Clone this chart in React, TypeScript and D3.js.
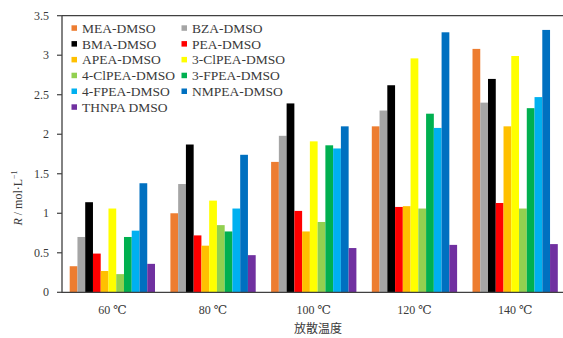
import * as d3 from 'd3'

const temps = ['60 ℃', '80 ℃', '100 ℃', '120 ℃', '140 ℃']
const seriesNames = [
  'MEA-DMSO',
  'BZA-DMSO',
  'BMA-DMSO',
  'PEA-DMSO',
  'APEA-DMSO',
  '3-ClPEA-DMSO',
  '4-ClPEA-DMSO',
  '3-FPEA-DMSO',
  '4-FPEA-DMSO',
  'NMPEA-DMSO',
  'THNPA DMSO',
]
const colors = [
  '#ED7D31',
  '#A5A5A5',
  '#000000',
  '#FF0000',
  '#FFC000',
  '#FFFF00',
  '#92D050',
  '#00B050',
  '#00B0F0',
  '#0070C0',
  '#7030A0',
]

// one array per series, values per temperature
const mea = [0.33, 1.0, 1.65, 2.1, 3.08]
const bza = [0.7, 1.37, 1.98, 2.3, 2.4]
const bma = [1.14, 1.87, 2.39, 2.62, 2.7]
const pea = [0.49, 0.72, 1.03, 1.08, 1.13]
const apea = [0.27, 0.59, 0.77, 1.09, 2.1]
const clpea3 = [1.06, 1.16, 1.91, 2.96, 2.99]
const clpea4 = [0.23, 0.85, 0.89, 1.06, 1.06]
const fpea3 = [0.7, 0.77, 1.86, 2.26, 2.33]
const fpea4 = [0.78, 1.06, 1.82, 2.08, 2.47]
const nmpea = [1.38, 1.74, 2.1, 3.29, 3.32]
const thnpa = [0.36, 0.47, 0.56, 0.6, 0.61]
const seriesValues = [mea, bza, bma, pea, apea, clpea3, clpea4, fpea3, fpea4, nmpea, thnpa]

const yTicks = [0, 0.5, 1, 1.5, 2, 2.5, 3, 3.5]

const left = 62
const right = 565.5
const top = 15.7
const bottom = 292.3

const x0 = d3.scaleBand().domain(temps).range([left, right]).paddingInner(0.153).paddingOuter(0.0765)
const x1 = d3.scaleBand().domain(seriesNames).range([0, x0.bandwidth()])
const y = d3.scaleLinear().domain([0, 3.5]).range([bottom, top])

const axisColor = '#404040'
const textColor = '#3a3a3a'
const serif = '"Liberation Serif", "DejaVu Serif", serif'

export default function App() {
  return (
    <svg
      width={563}
      height={338}
      style={{ position: 'absolute', left: 0, top: 0, background: '#fff' }}
    >
      {/* bars */}
      {temps.map((t, i) => (
        <g key={t} transform={`translate(${x0(t)},0)`}>
          {seriesNames.map((s, j) => (
            <rect
              key={s}
              x={x1(s)}
              y={y(seriesValues[j][i])}
              width={x1.bandwidth()}
              height={bottom - y(seriesValues[j][i])}
              fill={colors[j]}
            />
          ))}
        </g>
      ))}

      {/* frame top and axes */}
      <path d={`M ${left} ${top} H 563`} stroke={axisColor} strokeWidth={1.3} />
      <path d={`M ${left} ${top} V ${bottom} H 563`} stroke={axisColor} strokeWidth={1.3} fill="none" />

      {yTicks.map(v => (
        <g key={v}>
          <path d={`M ${left - 5} ${y(v)} H ${left}`} stroke={axisColor} strokeWidth={1.2} />
          <text
            x={49}
            y={y(v) + 4}
            textAnchor="end"
            fontFamily={serif}
            fontSize={12}
            fill={textColor}
          >
            {v}
          </text>
        </g>
      ))}

      {temps.map(t => (
        <text
          key={t}
          x={x0(t) + x0.bandwidth() / 2}
          y={314}
          textAnchor="middle"
          fontFamily={serif}
          fontSize={12}
          fill={textColor}
        >
          {t}
        </text>
      ))}

      <text
        transform="translate(22,198) rotate(-90)"
        textAnchor="middle"
        fontFamily={serif}
        fontSize={12}
        fill={textColor}
      >
        <tspan fontStyle="italic">R</tspan>
        <tspan> / mol·L</tspan>
        <tspan fontSize={8} dy={-5}>−1</tspan>
      </text>

      <text
        x={318}
        y={333}
        textAnchor="middle"
        fontFamily='"Noto Sans CJK SC", sans-serif'
        fontSize={12}
        fill={textColor}
      >
        放散温度
      </text>

      {/* legend */}
      {seriesNames.map((s, j) => {
        const col = j % 2
        const row = Math.floor(j / 2)
        const lx = col === 0 ? 71.5 : 181.5
        const ly = 28.3 + row * 15.8
        return (
          <g key={s}>
            <rect x={lx} y={ly - 3} width={5.5} height={5.5} fill={colors[j]} />
            <text
              x={lx + 10.5}
              y={ly + 4.5}
              fontFamily={serif}
              fontSize={13.5}
              fill={textColor}
            >
              {s}
            </text>
          </g>
        )
      })}
    </svg>
  )
}
